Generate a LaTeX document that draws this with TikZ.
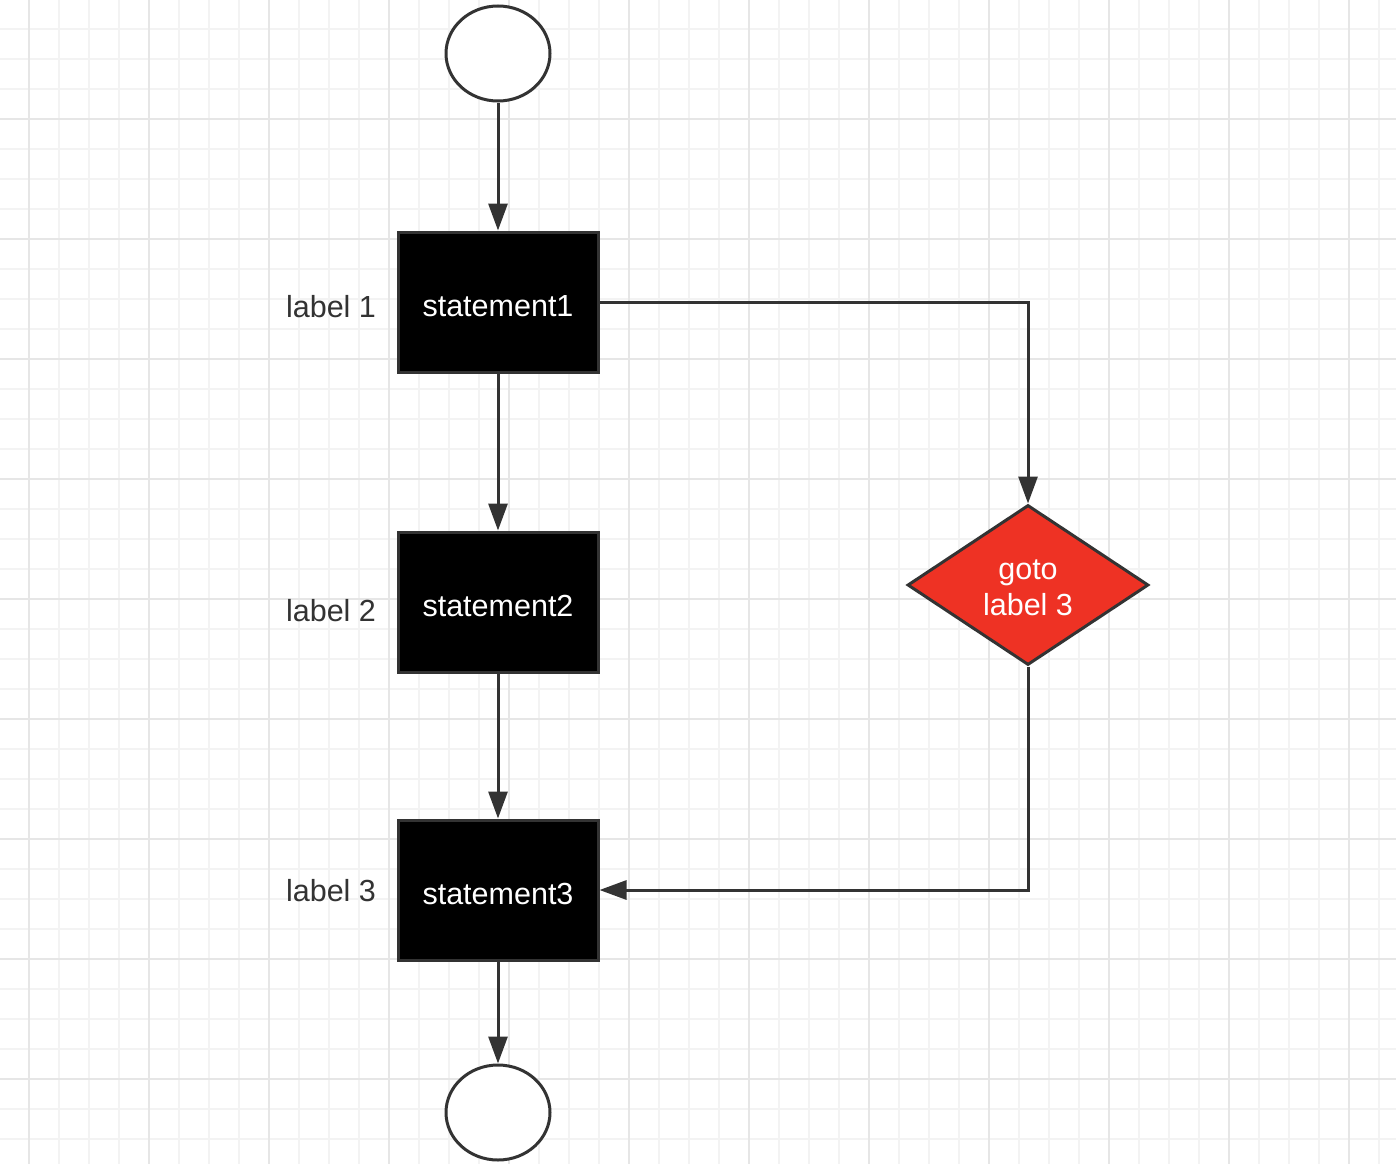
\documentclass[tikz,border=0pt]{standalone}
\usepackage{fontspec}
\setmainfont{Liberation Sans}
\usetikzlibrary{arrows.meta,shapes.geometric}
\definecolor{edgegray}{HTML}{333333}
\definecolor{gridminor}{HTML}{F3F3F3}
\definecolor{gridmajor}{HTML}{E6E6E6}
\definecolor{gotored}{HTML}{EE3224}
\tikzset{
  txt/.style={font=\fontsize{30.5}{36}\selectfont},
  terminal/.style={ellipse, draw=edgegray, line width=3pt, fill=white, minimum width=104pt, minimum height=95pt, inner sep=0pt},
  stmt/.style={rectangle, draw=edgegray, line width=3pt, fill=black, text=white, minimum width=200pt, minimum height=140pt, inner sep=0pt, text height=28pt, text depth=0pt, txt},
  gotobox/.style={diamond, draw=edgegray, line width=3pt, fill=gotored, minimum width=241pt, minimum height=160pt, inner sep=0pt, aspect=1.5},
  gototext/.style={text=white, inner sep=0pt, align=center, txt},
  lbl/.style={text=edgegray, inner sep=0pt, txt},
  flow/.style={draw=edgegray, line width=3pt, -{Triangle[length=27pt,width=19pt]}},
}
\begin{document}
\begin{tikzpicture}[x=1pt,y=-1pt]
\useasboundingbox (0,0) rectangle (1396,1164);
\fill[white] (0,0) rectangle (1396,1164);
% grid
\foreach \gx in {29,59,...,1396} \draw[gridminor, line width=1.5pt] (\gx,0) -- (\gx,1164);
\foreach \gy in {29,59,...,1164} \draw[gridminor, line width=1.5pt] (0,\gy) -- (1396,\gy);
\foreach \gx in {29,149,...,1396} \draw[gridmajor, line width=2pt] (\gx,0) -- (\gx,1164);
\foreach \gy in {119,239,...,1164} \draw[gridmajor, line width=2pt] (0,\gy) -- (1396,\gy);
% nodes
\node[terminal] (start) at (498,53.5) {};
\node[stmt] (s1) at (498,302) {statement1};
\node[stmt] (s2) at (498,602) {statement2};
\node[stmt] (s3) at (498,890) {statement3};
\node[terminal] (stop) at (498,1112.5) {};
\node[gotobox] (g) at (1028,585) {};
\node[gototext] (gt) at (1028,588) {goto\\label 3};
\node[lbl] (l1) at (331,307) {label 1};
\node[lbl] (l2) at (331,611) {label 2};
\node[lbl] (l3) at (331,891) {label 3};
% connectors
\draw[flow] (start) -- (s1);
\draw[flow] (s1) -- (s2);
\draw[flow] (s2) -- (s3);
\draw[flow] (s3) -- (stop);
\draw[flow] (s1.east) -| (g.north);
\draw[flow] (g.south) |- (s3.east);
\end{tikzpicture}
\end{document}
